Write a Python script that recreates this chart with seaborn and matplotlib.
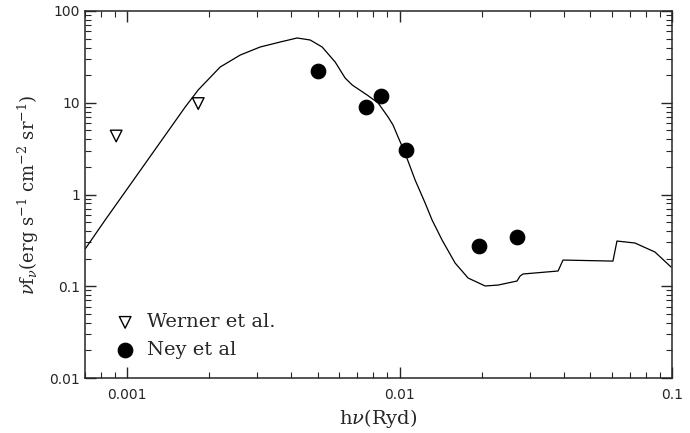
import numpy as np
import pandas as pd
import matplotlib
matplotlib.use("Agg")
import matplotlib.pyplot as plt
import matplotlib.ticker as mticker
import seaborn as sns

# model curve (h nu in Ryd, nu f_nu)
curve_x = [0.000701, 0.000830, 0.00100, 0.001633, 0.001823, 0.002194, 0.002599, 0.003076,
           0.003642, 0.004206, 0.004696, 0.005196, 0.005800, 0.00631, 0.00670, 0.00760,
           0.00834, 0.00907, 0.00946, 0.00987, 0.01047, 0.01140, 0.01241, 0.01316,
           0.01432, 0.01599, 0.01784, 0.02060, 0.02298, 0.02698, 0.02768, 0.02838,
           0.03818, 0.0398, 0.0607, 0.0628, 0.0731, 0.0866, 0.0992]
curve_y = [0.255, 0.527, 1.15, 8.99, 13.8, 24.5, 33.1, 40.5,
           45.9, 50.8, 48.3, 40.5, 27.8, 18.6, 15.6, 12.15,
           9.94, 7.0, 5.72, 4.24, 2.83, 1.44, 0.807, 0.527,
           0.319, 0.179, 0.123, 0.1007, 0.103, 0.114, 0.129, 0.136,
           0.1466, 0.193, 0.188, 0.311, 0.296, 0.236, 0.162]

werner_x = [0.000911, 0.001823]
werner_y = [4.34, 9.8]

ney_x = [0.00503, 0.00750, 0.00851, 0.0106, 0.0195, 0.0269]
ney_y = [22.2, 9.0, 11.9, 3.05, 0.275, 0.344]

x_ticks = [0.001, 0.01, 0.1]
x_ticklabels = ["0.001", "0.01", "0.1"]
y_ticks = [0.01, 0.1, 1, 10, 100]
y_ticklabels = ["0.01", "0.1", "1", "10", "100"]

sns.set_style("ticks")
plt.rcParams["font.family"] = ["DejaVu Sans"]
plt.rcParams["mathtext.fontset"] = "dejavuserif"

fig = plt.figure(figsize=(6.9, 4.33), dpi=100)
ax = fig.add_axes([85/690, 1-378/433, (672-85)/690, (378-11)/433])

df_curve = pd.DataFrame({"x": curve_x, "y": curve_y})
df_w = pd.DataFrame({"x": werner_x, "y": werner_y})
df_n = pd.DataFrame({"x": ney_x, "y": ney_y})

sns.lineplot(data=df_curve, x="x", y="y", ax=ax, color="black", linewidth=0.9,
             sort=False, estimator=None)
sns.scatterplot(data=df_w, x="x", y="y", ax=ax, marker="v", s=70,
                facecolor="none", edgecolor="black", linewidth=1.0,
                label="Werner et al.")
sns.scatterplot(data=df_n, x="x", y="y", ax=ax, marker="o", s=110,
                color="black", edgecolor="black", label="Ney et al")

ax.set_xscale("log")
ax.set_yscale("log")
ax.set_xlim(0.0007, 0.1)
ax.set_ylim(0.01, 100)

ax.xaxis.set_major_locator(mticker.FixedLocator(x_ticks))
ax.xaxis.set_major_formatter(mticker.FixedFormatter(x_ticklabels))
ax.yaxis.set_major_locator(mticker.FixedLocator(y_ticks))
ax.yaxis.set_major_formatter(mticker.FixedFormatter(y_ticklabels))
ax.xaxis.set_minor_locator(mticker.LogLocator(base=10, subs=np.arange(2, 10), numticks=20))
ax.yaxis.set_minor_locator(mticker.LogLocator(base=10, subs=np.arange(2, 10), numticks=20))
ax.xaxis.set_minor_formatter(mticker.NullFormatter())
ax.yaxis.set_minor_formatter(mticker.NullFormatter())

ax.tick_params(which="both", direction="in", top=True, right=True, labelsize=10)
ax.tick_params(which="major", length=8, width=1)
ax.tick_params(which="minor", length=4, width=0.8)
ax.tick_params(axis="x", which="major", pad=7)
for s in ax.spines.values():
    s.set_linewidth(1.1)
    s.set_visible(True)

ax.set_xlabel(r"h$\nu$(Ryd)", family="DejaVu Serif", fontsize=14, labelpad=4)
ax.set_ylabel(r"$\nu$f$_\nu$(erg s$^{-1}$ cm$^{-2}$ sr$^{-1}$)", family="DejaVu Serif",
              fontsize=13, labelpad=6)

leg = ax.legend(loc="lower left", bbox_to_anchor=(0.022, 0.03), frameon=False,
                prop={"family": "DejaVu Serif", "size": 14}, handletextpad=0.1,
                labelspacing=0.5, borderaxespad=0)

fig.savefig("out.png", dpi=100)
